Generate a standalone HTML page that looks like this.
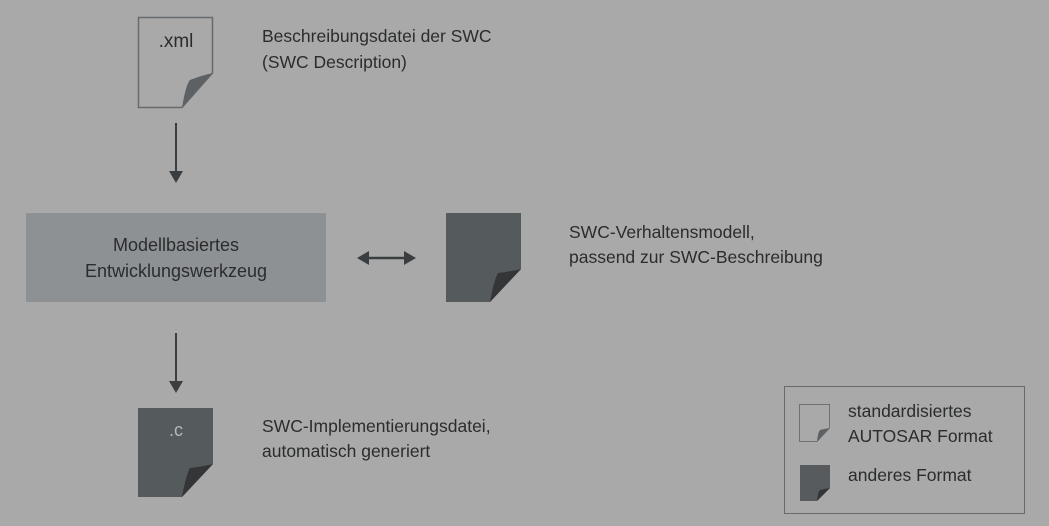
<!DOCTYPE html>
<html><head><meta charset="utf-8"><style>
html,body{margin:0;padding:0;background:#a9a9a9;}
svg{display:block;}
text{font-family:"Liberation Sans",sans-serif;fill:#2a2c2e;}
</style></head><body>
<svg width="1049" height="526" viewBox="0 0 1049 526" xmlns="http://www.w3.org/2000/svg">
<rect width="1049" height="526" fill="#a9a9a9"/>
<path d="M138.5,17.5 H212.5 V73 L182,107.5 H138.5 Z" fill="#a9a9a9" stroke="#676a6c" stroke-width="1.5"/>
<path d="M212.5,73 L182,107.5 Q186,84 190,80 Q200,76 212.5,73 Z" fill="#5e6163"/>
<text x="176" y="47" font-size="19" text-anchor="middle">.xml</text>
<text x="262" y="42" font-size="17.5">Beschreibungsdatei der SWC</text>
<text x="262" y="68" font-size="17.5">(SWC Description)</text>
<line x1="176" y1="123" x2="176" y2="172" stroke="#3b3e40" stroke-width="2"/>
<path d="M169,171 H183 L176,183 Z" fill="#3b3e40"/>
<rect x="26" y="213" width="300" height="89" fill="#8e9194"/>
<text x="176" y="251" font-size="18" text-anchor="middle">Modellbasiertes</text>
<text x="176" y="277" font-size="18" text-anchor="middle">Entwicklungswerkzeug</text>
<line x1="365" y1="258" x2="408" y2="258" stroke="#3b3e40" stroke-width="2.5"/>
<path d="M357,258 L369,251 V265 Z" fill="#3b3e40"/>
<path d="M416,258 L404,251 V265 Z" fill="#3b3e40"/>
<path d="M446,213 H521 V269 L490,302 H446 Z" fill="#555a5d"/>
<path d="M521,269 L490,302 Q494,280 498,273 Q508,272 521,269 Z" fill="#333536"/>
<text x="569" y="238" font-size="17.5">SWC-Verhaltensmodell,</text>
<text x="569" y="263" font-size="17.5">passend zur SWC-Beschreibung</text>
<line x1="176" y1="333" x2="176" y2="382" stroke="#3b3e40" stroke-width="2"/>
<path d="M169,381 H183 L176,393 Z" fill="#3b3e40"/>
<path d="M138,408 H213 V464 L182,497 H138 Z" fill="#555a5d"/>
<path d="M213,464 L182,497 Q186,475 190,468 Q200,467 213,464 Z" fill="#333536"/>
<text x="176" y="436" font-size="18" text-anchor="middle" style="fill:#b5b8ba">.c</text>
<text x="262" y="432" font-size="17.5">SWC-Implementierungsdatei,</text>
<text x="262" y="457" font-size="17.5">automatisch generiert</text>
<rect x="784.5" y="386.5" width="240" height="127" fill="none" stroke="#676a6c" stroke-width="1"/>
<path d="M799.5,404.5 H829.5 V428 L817,441.5 H799.5 Z" fill="#a9a9a9" stroke="#6e7173" stroke-width="1"/>
<path d="M829.5,428 L817,441.5 Q818,432 820,430 Q824,429 829.5,428 Z" fill="#5e6163"/>
<path d="M800,465 H830 V488 L817,501 H800 Z" fill="#585b5e"/>
<path d="M830,488 L817,501 Q818,492 820,490 Q824,489 830,488 Z" fill="#333536"/>
<text x="848" y="417" font-size="17.5">standardisiertes</text>
<text x="848" y="442" font-size="17.5">AUTOSAR Format</text>
<text x="848" y="481" font-size="17.5">anderes Format</text>
</svg>
</body></html>
